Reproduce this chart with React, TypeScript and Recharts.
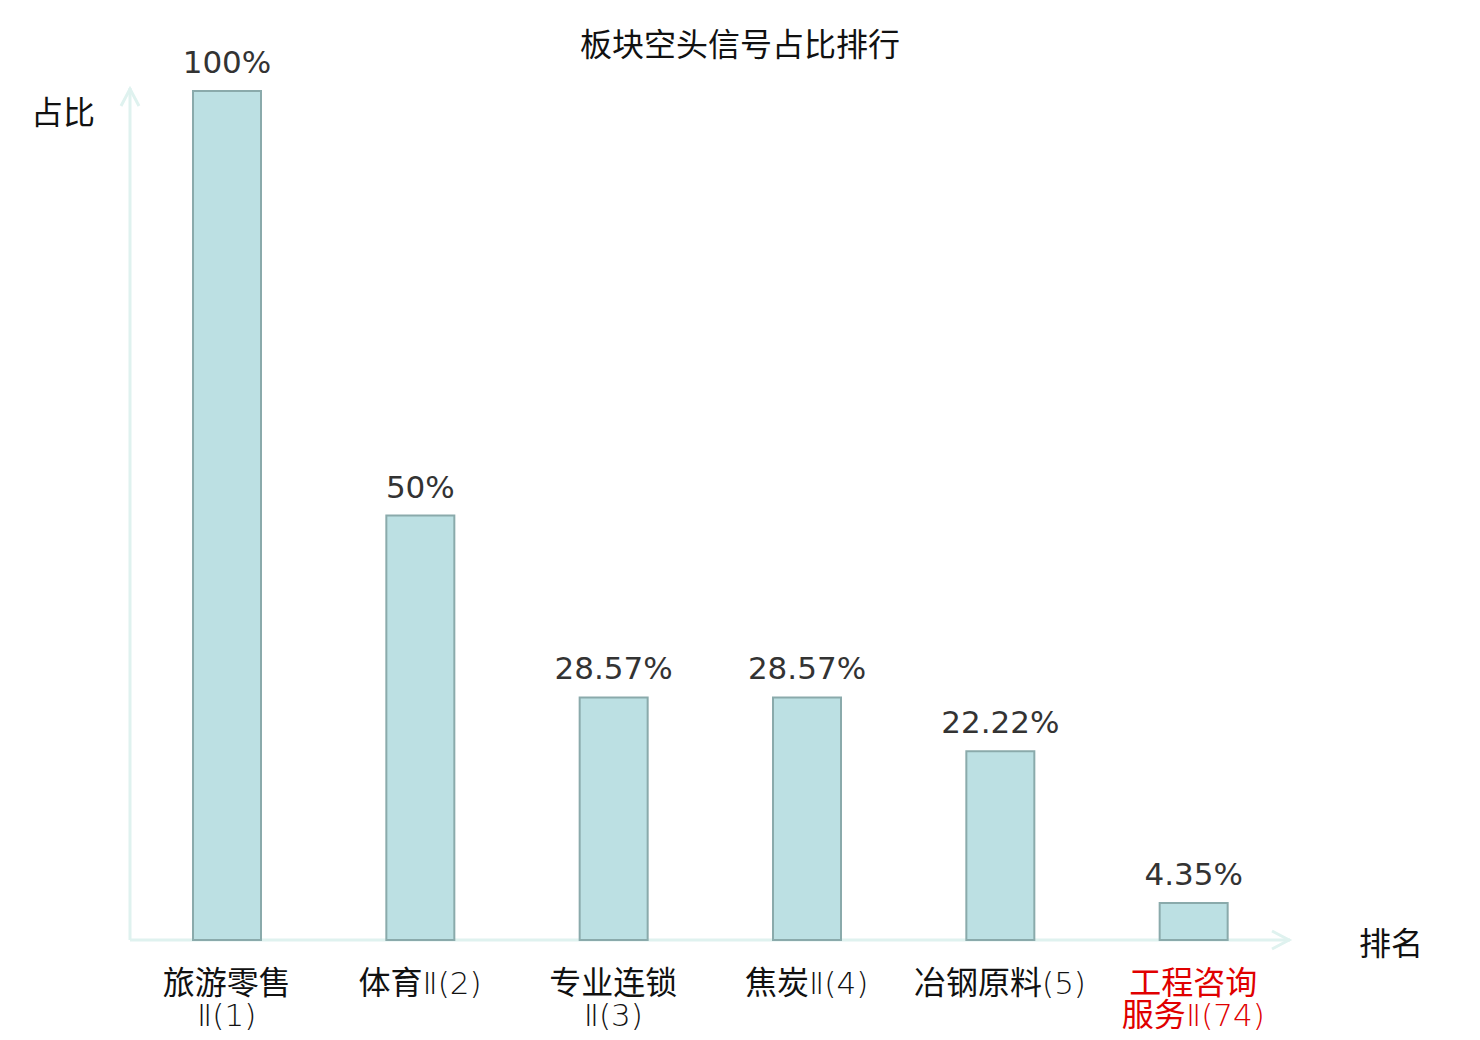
import React from "react";
import { BarChart, Bar, XAxis, YAxis, LabelList, Customized } from "recharts";

const CATEGORIES = ["旅游零售\nⅡ(1)", "体育Ⅱ(2)", "专业连锁\nⅡ(3)", "焦炭Ⅱ(4)", "冶钢原料(5)", "工程咨询\n服务Ⅱ(74)"];
const RATIOS = [100, 50, 28.57, 28.57, 22.22, 4.35];
const HIGHLIGHTED = [false, false, false, false, false, true];

const TITLE = "板块空头信号占比排行";
const Y_NAME = "占比";
const X_NAME = "排名";

const W = 1480;
const H = 1040;
const MARGIN = { top: 91, right: 190, bottom: 70, left: 130 };
const PLOT_BOTTOM = 940;
const PLOT_RIGHT = W - MARGIN.right;

const AXIS_COLOR = "#dff2ef";
const CJK = "'Noto Sans CJK SC', sans-serif";
const NUM = "'DejaVu Sans', 'Noto Sans CJK SC', sans-serif";

const data = CATEGORIES.map((name, i) => ({ name, value: RATIOS[i] }));

// split a label into CJK runs (regular weight) and latin runs (thin DejaVu)
function runs(text: string) {
  const parts = text.match(/[\u4e00-\u9fff]+|[^\u4e00-\u9fff]+/g) || [];
  return parts.map((p, i) =>
    /[\u4e00-\u9fff]/.test(p) ? (
      <tspan key={i} fontFamily={CJK} fontSize={32}>{p}</tspan>
    ) : (
      <tspan key={i} fontFamily="'DejaVu Sans'" fontWeight={200} fontSize={31}>{p}</tspan>
    )
  );
}

function CategoryTick(props: any) {
  const { x, payload, index } = props;
  const lines = String(payload.value).split("\n");
  const color = HIGHLIGHTED[index] ? "#e00000" : "#111";
  return (
    <g>
      {lines.map((line, i) => (
        <text key={i} x={x} y={PLOT_BOTTOM + 54 + i * 32} textAnchor="middle" fill={color}>
          {runs(line)}
        </text>
      ))}
    </g>
  );
}

function Axes() {
  return (
    <g>
      <line x1={MARGIN.left} y1={PLOT_BOTTOM} x2={MARGIN.left} y2={88} stroke={AXIS_COLOR} strokeWidth={3} />
      <polyline points={`${MARGIN.left - 9},106 ${MARGIN.left},89 ${MARGIN.left + 9},106`} fill="none" stroke={AXIS_COLOR} strokeWidth={3} />
      <line x1={MARGIN.left} y1={PLOT_BOTTOM} x2={PLOT_RIGHT} y2={PLOT_BOTTOM} stroke={AXIS_COLOR} strokeWidth={3} />
      <polyline points={`${PLOT_RIGHT - 18},${PLOT_BOTTOM - 9} ${PLOT_RIGHT - 1},${PLOT_BOTTOM} ${PLOT_RIGHT - 18},${PLOT_BOTTOM + 9}`} fill="none" stroke={AXIS_COLOR} strokeWidth={3} />
      <text x={740} y={42} textAnchor="middle" dominantBaseline="central" fontFamily={CJK} fontSize={32} fill="#111">{TITLE}</text>
      <text x={63} y={110} textAnchor="middle" dominantBaseline="central" fontFamily={CJK} fontSize={32} fill="#111">{Y_NAME}</text>
      <text x={1391} y={941} textAnchor="middle" dominantBaseline="central" fontFamily={CJK} fontSize={32} fill="#111">{X_NAME}</text>
    </g>
  );
}

export default function App() {
  return (
    <div style={{ width: W, height: H, background: "#fff" }}>
      <style>{`body{margin:0}`}</style>
      <BarChart width={W} height={H} data={data} margin={MARGIN} barCategoryGap="0%">
        <XAxis dataKey="name" axisLine={false} tickLine={false} tick={<CategoryTick />} interval={0} height={30} />
        <YAxis hide domain={[0, 100]} />
        <Customized component={<Axes />} />
        <Bar dataKey="value" barSize={68} fill="#bce0e3" stroke="#8aaaab" strokeWidth={2} isAnimationActive={false}>
          <LabelList
            dataKey="value"
            position="top"
            offset={18}
            formatter={(v: any) => `${v}%`}
            fontFamily={NUM}
            fontSize={31}
            fill="#333"
          />
        </Bar>
      </BarChart>
    </div>
  );
}
